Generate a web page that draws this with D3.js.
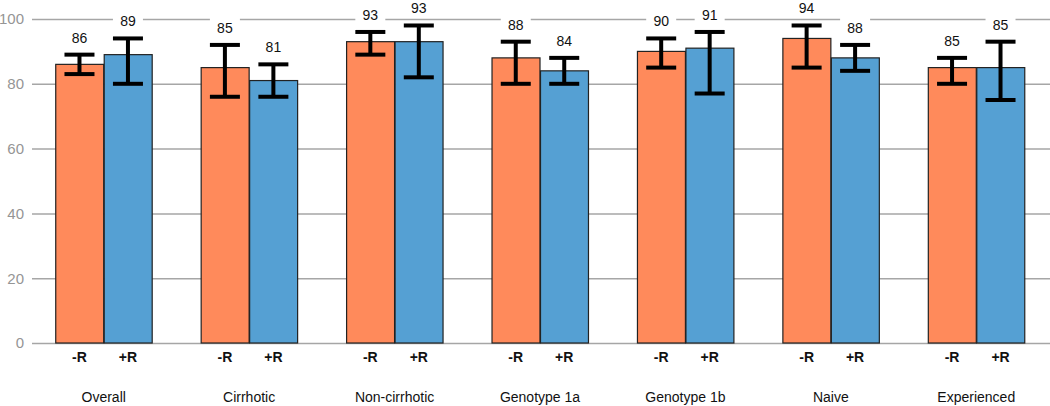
<!DOCTYPE html>
<html><head><meta charset="utf-8">
<script src="https://cdn.jsdelivr.net/npm/d3@7"></script>
<style>body{margin:0;background:#fff}svg{display:block}</style>
</head><body>
<svg id="c" width="1050" height="406"></svg>
<script>
const categories = ["Overall","Cirrhotic","Non-cirrhotic","Genotype 1a","Genotype 1b","Naive","Experienced"];
const series = ["-R","+R"];
const valuesMinus = [86,85,93,88,90,94,85];
const lowMinus   = [83,76,89,80,85,85,80];
const highMinus  = [89,92,96,93,94,98,88];
const valuesPlus = [89,81,93,84,91,88,85];
const lowPlus    = [80,76,82,80,77,84,75];
const highPlus   = [94,86,98,88,96,92,93];
const yTicks = [0,20,40,60,80,100];
const colors = ["#FF8A5B","#55A0D3"];

const svg = d3.select("#c");
const font = "'Liberation Sans', Arial, Helvetica, sans-serif";
const y = d3.scaleLinear().domain([0,100]).range([343,19]);
const x0 = d3.scaleBand().domain(categories).range([31,1049]).paddingInner(1/3).paddingOuter(1/6);
const x1 = d3.scaleBand().domain(series).range([0,x0.bandwidth()]);

const data = categories.map((c,i)=>[
  {cat:c, s:"-R", v:valuesMinus[i], lo:lowMinus[i], hi:highMinus[i], col:colors[0]},
  {cat:c, s:"+R", v:valuesPlus[i], lo:lowPlus[i], hi:highPlus[i], col:colors[1]}
]).flat();

// grid
const ax = svg.append("g").attr("transform","translate(32,0)")
  .call(d3.axisLeft(y).tickValues(yTicks).tickSize(-1018).tickPadding(8));
ax.select(".domain").remove();
ax.selectAll(".tick line").attr("stroke","#a6a6a6").attr("stroke-width",1.5);
ax.selectAll(".tick text").attr("fill","#959595").style("font-family",font).style("font-size","15px");

// bars
svg.append("g").selectAll("rect").data(data).join("rect")
  .attr("x",d=>x0(d.cat)+x1(d.s)+0.5)
  .attr("y",d=>y(d.v))
  .attr("width",x1.bandwidth()-0.5)
  .attr("height",d=>y(0)-y(d.v))
  .attr("fill",d=>d.col).attr("stroke","#222").attr("stroke-width",1.2);

// error bars
const eb = svg.append("g").selectAll("g").data(data).join("g")
  .attr("transform",d=>`translate(${x0(d.cat)+x1(d.s)+x1.bandwidth()/2},0)`);
eb.append("line").attr("x1",0).attr("x2",0).attr("y1",d=>y(d.hi)).attr("y2",d=>y(d.lo))
  .attr("stroke","#000").attr("stroke-width",4);
eb.append("line").attr("x1",-15).attr("x2",15).attr("y1",d=>y(d.hi)).attr("y2",d=>y(d.hi))
  .attr("stroke","#000").attr("stroke-width",4);
eb.append("line").attr("x1",-15).attr("x2",15).attr("y1",d=>y(d.lo)).attr("y2",d=>y(d.lo))
  .attr("stroke","#000").attr("stroke-width",4);
// value labels with white background
eb.append("rect").attr("x",-15).attr("width",30).attr("y",d=>y(d.hi)-27).attr("height",18).attr("fill","#fff");
eb.append("text").attr("text-anchor","middle").attr("y",d=>y(d.hi)-12)
  .style("font-family",font).style("font-size","14px").attr("fill","#111").text(d=>d.v);

// series labels
svg.append("g").selectAll("text").data(data).join("text")
  .attr("x",d=>x0(d.cat)+x1(d.s)+x1.bandwidth()/2).attr("y",362)
  .attr("text-anchor","middle").style("font-family",font).style("font-size","14px").style("font-weight","bold")
  .attr("fill","#111").text(d=>d.s);

// category labels
svg.append("g").selectAll("text").data(categories).join("text")
  .attr("x",d=>x0(d)+x0.bandwidth()/2).attr("y",402)
  .attr("text-anchor","middle").style("font-family",font).style("font-size","14px")
  .attr("fill","#111").text(d=>d);
</script>
</body></html>
